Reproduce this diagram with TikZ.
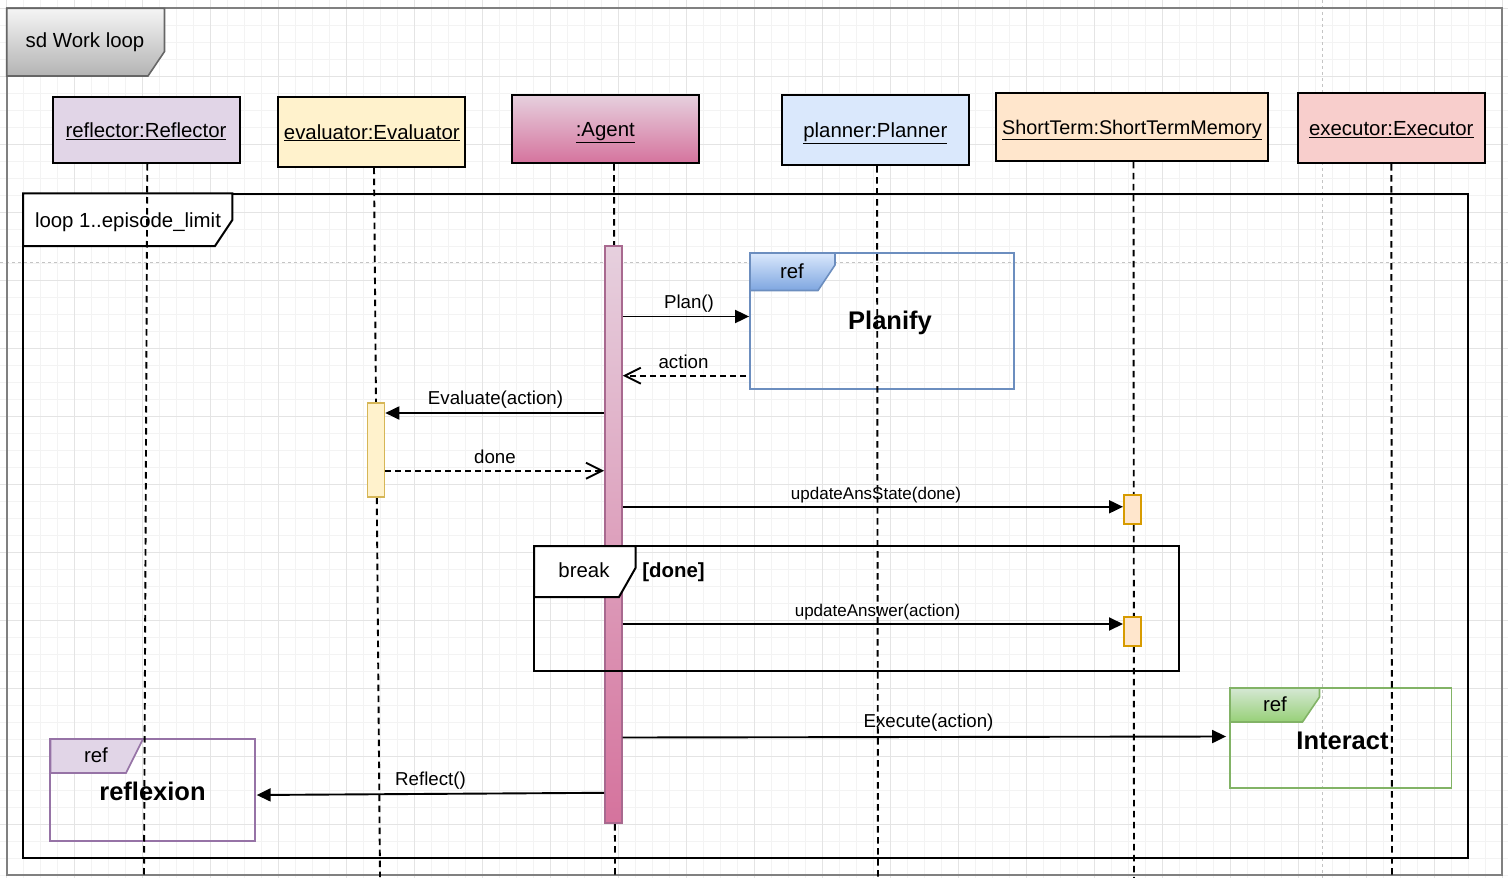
\documentclass[tikz,border=0pt]{standalone}
\usepackage{fontspec}
\setmainfont{Liberation Sans}
\usetikzlibrary{arrows.meta}
\definecolor{gridmin}{HTML}{F3F3F3}
\definecolor{gridmaj}{HTML}{E4E4E4}
\definecolor{pagebrk}{HTML}{C4C4C4}
\definecolor{framegray}{HTML}{808080}
\definecolor{sdtop}{HTML}{F5F5F5}
\definecolor{sdbot}{HTML}{B3B3B3}
\definecolor{sdline}{HTML}{666666}
\definecolor{reflfill}{HTML}{E1D5E7}
\definecolor{reflline}{HTML}{9673A6}
\definecolor{evalfill}{HTML}{FFF2CC}
\definecolor{evalline}{HTML}{D6B656}
\definecolor{agtop}{HTML}{E6D0DE}
\definecolor{agbot}{HTML}{D5739D}
\definecolor{agline}{HTML}{A8698F}
\definecolor{planfill}{HTML}{DAE8FC}
\definecolor{plangrad}{HTML}{7EA6E0}
\definecolor{planline}{HTML}{6C8EBF}
\definecolor{stfill}{HTML}{FFE6CC}
\definecolor{stline}{HTML}{D79B00}
\definecolor{exfill}{HTML}{F8CECC}
\definecolor{intfill}{HTML}{D5E8D4}
\definecolor{intgrad}{HTML}{97D077}
\definecolor{intline}{HTML}{82B366}
\newcommand\fHead{\fontsize{20.4}{24}\selectfont}
\newcommand\fMsg{\fontsize{18.7}{22}\selectfont}
\newcommand\fSmall{\fontsize{17}{20}\selectfont}
\newcommand\fBig{\bfseries\fontsize{25.5}{30}\selectfont}
\begin{document}
\begin{tikzpicture}[x=1pt,y=-1pt,
  gmin/.style={draw=gridmin, line width=1pt},
  gmaj/.style={draw=gridmaj, line width=1pt},
  pbreak/.style={draw=pagebrk, line width=0.9pt, dash pattern=on 3pt off 3pt},
  hdr/.style={draw=black, line width=2pt, inner sep=0pt, font=\fHead, text=black, text height=14.6pt, text depth=0pt},
  actbar/.style={line width=1.6pt, inner sep=0pt, minimum width=17pt},
  lifeline/.style={line width=1.9pt, dash pattern=on 6.5pt off 4.5pt},
  msg/.style={line width=1.9pt, -{Triangle[length=14pt,width=13pt]}},
  ret/.style={line width=1.9pt, dash pattern=on 6pt off 4pt, -{Straight Barb[length=16pt,width=16pt]}},
  lbl/.style={font=\fMsg, inner sep=0pt, text height=13.4pt, text depth=0pt},
  slbl/.style={font=\fSmall, inner sep=0pt, text height=12.2pt, text depth=0pt},
  hlbl/.style={font=\fHead, inner sep=0pt, text height=14.6pt, text depth=0pt},
  blbl/.style={font=\fBig, inner sep=0pt, text height=18.3pt, text depth=0pt},
  frame/.style={draw=black, line width=2pt, inner sep=0pt},
]
\useasboundingbox (0,0) rectangle (1508,878);
\fill[white] (0,0) rectangle (1508,878);
% grid
\foreach \k in {-1,...,88} \draw[gmin] ({6.7+17*\k},0) -- ({6.7+17*\k},878);
\foreach \k in {-1,...,51} \draw[gmin] (0,{8.3+17*\k}) -- (1508,{8.3+17*\k});
\foreach \k in {0,...,22} \draw[gmaj] ({6.7+68*\k},0) -- ({6.7+68*\k},878);
\foreach \k in {0,...,12} \draw[gmaj] (0,{8.3+68*\k}) -- (1508,{8.3+68*\k});
% page breaks
\draw[pbreak] (0,262) -- (1508,262);
\draw[pbreak] (1322.5,0) -- (1322.5,878);
% outer sd frame
\draw[draw=framegray, line width=1.9pt] (6.7,8.3) rectangle (1502,875);
\shadedraw[top color=sdtop, bottom color=sdbot, draw=sdline, line width=1.6pt]
  (6.7,8.3) -- (164.5,8.3) -- (164.5,51.5) -- (148,76) -- (6.7,76) -- cycle;
\node[hlbl] (sdlabel) at (85,40.5) {sd Work loop};
% loop frame
\node[frame, minimum width=1445pt, minimum height=664pt] (loopframe) at (745.5,525.5) {};
\draw[fill=white, line width=2pt] (23,193.3) -- (232.3,193.3) -- (232.3,220) -- (215,246) -- (23,246) -- cycle;
\node[hlbl] (looplabel) at (128,220) {loop 1..episode\_limit};
% ref Planify
\node[draw=planline, line width=1.8pt, minimum width=264pt, minimum height=136pt, inner sep=0pt] (planify) at (882,321) {};
\shadedraw[top color=planfill, bottom color=plangrad, draw=planline, line width=1.6pt]
  (750,253) -- (835,253) -- (835,265) -- (818,290.5) -- (750,290.5) -- cycle;
\node[hlbl] (planifyref) at (792,271.5) {ref};
\node[blbl] (planifytxt) at (890,320.5) {Planify};
% ref Interact
\node[draw=intline, line width=1.8pt, minimum width=221.5pt, minimum height=100pt, inner sep=0pt] (interact) at (1340.75,738) {};
\shadedraw[top color=intfill, bottom color=intgrad, draw=intline, line width=1.6pt]
  (1230,688) -- (1319.5,688) -- (1319.5,697) -- (1302.5,722) -- (1230,722) -- cycle;
\node[hlbl] (interactref) at (1275,704) {ref};
\node[blbl] (interacttxt) at (1342.5,740.5) {Interact};
% ref reflexion
\node[draw=reflline, line width=1.8pt, minimum width=204.5pt, minimum height=102pt, inner sep=0pt] (reflexion) at (152.5,790) {};
\draw[fill=reflfill, draw=reflline, line width=1.6pt]
  (50.5,739) -- (143,739) -- (126,773) -- (50.5,773) -- cycle;
\node[hlbl] (reflexionref) at (96,755.5) {ref};
\node[blbl] (reflexiontxt) at (152.5,791.5) {reflexion};
% lifeline heads
\node[hdr, fill=reflfill, minimum width=187pt, minimum height=66pt] (reflector) at (146,130) {\underline{reflector:Reflector}};
\node[hdr, fill=evalfill, minimum width=187pt, minimum height=70pt] (evaluator) at (371.8,131.7) {\underline{evaluator:Evaluator}};
\node[hdr, top color=agtop, bottom color=agbot, minimum width=187pt, minimum height=68pt] (agent) at (605.3,129.2) {\underline{:Agent}};
\node[hdr, fill=planfill, minimum width=187pt, minimum height=70pt] (planner) at (875.3,130.2) {\underline{planner:Planner}};
\node[hdr, fill=stfill, minimum width=272pt, minimum height=68pt] (shortterm) at (1132,126.8) {\fontsize{19.8}{24}\selectfont\underline{ShortTerm:ShortTermMemory}};
\node[hdr, fill=exfill, minimum width=187pt, minimum height=70pt] (executor) at (1391.3,128) {\underline{executor:Executor}};
% lifelines
\coordinate (reflEnd) at (144,877);
\coordinate (evalEnd) at (380,877);
\coordinate (agentEnd) at (615,878);
\coordinate (plannerEnd) at (878,878);
\coordinate (stEnd) at (1134,878);
\coordinate (execEnd) at (1392,878);
\draw[lifeline] (reflector.south -| 147.3,0) -- (reflEnd);
\draw[lifeline] (evaluator.south -| 374,0) -- (evalEnd);
\draw[lifeline] (agent.south -| 614,0) -- (agentEnd);
\draw[lifeline] (planner.south -| 877,0) -- (plannerEnd);
\draw[lifeline] (shortterm.south -| 1133.5,0) -- (stEnd);
\draw[lifeline] (executor.south) -- (execEnd);
% activation bars
\node[actbar, draw=agline, top color=agtop, bottom color=agbot, minimum height=577.5pt] (agentbar) at (613.4,534.5) {};
\node[actbar, draw=evalline, fill=evalfill, minimum height=94pt] (evalbar) at (376,449.7) {};
\node[actbar, draw=stline, fill=stfill, minimum height=29pt] (stbarA) at (1132.3,509.5) {};
\node[actbar, draw=stline, fill=stfill, minimum height=29pt] (stbarB) at (1132.3,631.3) {};
% break frame (over the agent bar)
\node[frame, minimum width=645pt, minimum height=125pt] (breakframe) at (856.5,608.5) {};
\draw[fill=white, line width=2pt] (534,546) -- (635.5,546) -- (635.5,568) -- (619,597) -- (534,597) -- cycle;
\node[hlbl] (breaklabel) at (584,570) {break};
\node[hlbl, font=\fHead\bfseries] (breakguard) at (673.5,570) {[done]};
% messages
\coordinate (yPlan) at (0,316.5);
\coordinate (yAct) at (0,375.7);
\coordinate (yEval) at (0,413);
\coordinate (yDone) at (0,470.7);
\coordinate (yUAS) at (0,506.8);
\coordinate (yUA) at (0,624);
\coordinate (yExA) at (0,737.5);
\coordinate (yExB) at (0,736.5);
\coordinate (yRfA) at (0,792.8);
\coordinate (yRfB) at (0,795);
\draw[msg] (agentbar.east |- yPlan) -- (planify.west |- yPlan);
\draw[ret] ([xshift=-3pt]planify.west |- yAct) -- (agentbar.east |- yAct);
\draw[msg] (agentbar.west |- yEval) -- (evalbar.east |- yEval);
\draw[ret] (evalbar.east |- yDone) -- (agentbar.west |- yDone);
\draw[msg] (agentbar.east |- yUAS) -- (stbarA.west |- yUAS);
\draw[msg] (agentbar.east |- yUA) -- (stbarB.west |- yUA);
\draw[msg] (agentbar.east |- yExA) -- ([xshift=-3pt]interact.west |- yExB);
\draw[msg] (agentbar.west |- yRfA) -- ([xshift=1pt]reflexion.east |- yRfB);
% message labels
\node[lbl] (planlbl) at (689,301.5) {Plan()};
\node[lbl] (actlbl) at (683.5,361.5) {action};
\node[lbl] (evallbl) at (495.5,398) {Evaluate(action)};
\node[lbl] (donelbl) at (495,456.5) {done};
\node[slbl] (uaslbl) at (876,493) {updateAnsState(done)};
\node[slbl] (ualbl) at (877.5,610) {updateAnswer(action)};
\node[lbl] (exlbl) at (928.5,721) {Execute(action)};
\node[lbl] (rflbl) at (430.5,779) {Reflect()};
\end{tikzpicture}
\end{document}
